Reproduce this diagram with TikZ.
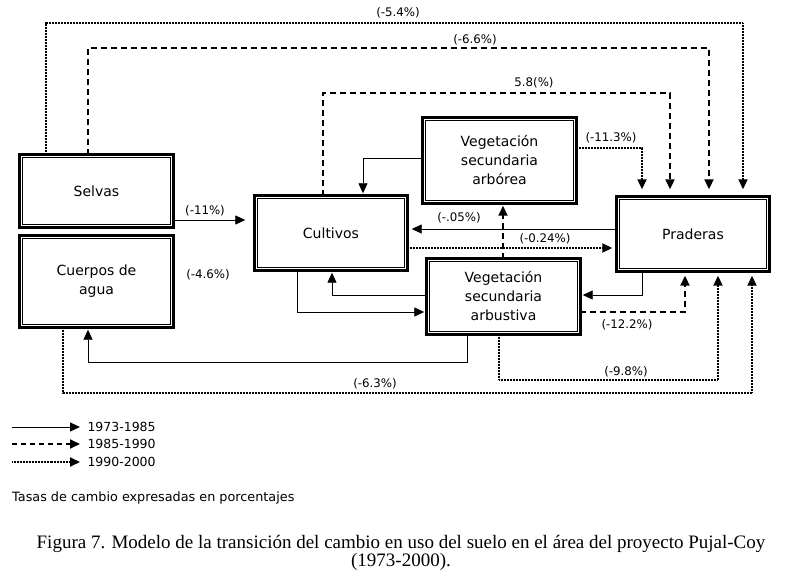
\documentclass[tikz,border=0pt]{standalone}
\usepackage{fontspec}
\setmainfont{DejaVu Sans}
\newfontfamily\capfont{Liberation Serif}
\usetikzlibrary{arrows.meta}

\begin{document}
\begin{tikzpicture}[x=1pt, y=-1pt, >={Triangle[length=10pt,width=9pt]},
	landuse/.style={align=center, inner sep=0pt, font=\fontsize{14}{19}\selectfont},
	rate/.style={font=\fontsize{11.8}{13}\selectfont},
	yrA/.style={line width=0.8pt, shorten >=5pt},
	yrB/.style={line width=1.9pt, dash pattern=on 6pt off 4pt, shorten >=5pt},
	yrC/.style={line width=1.8pt, dash pattern=on 0.8pt off 0.7pt, shorten >=5pt}]
	\useasboundingbox (0,0) rectangle (788,575);
	% land use classes
	\node[landuse, minimum width=152pt, minimum height=71pt] (selvas) at (96.5,191) {Selvas};
	\node[landuse, minimum width=152pt, minimum height=90pt] (cuerpos) at (96.5,281.5) {Cuerpos de\\agua};
	\node[landuse, minimum width=151pt, minimum height=73pt] (cultivos) at (331,233) {Cultivos};
	\node[landuse, minimum width=152pt, minimum height=84pt] (arborea) at (499.5,160.5) {Vegetación\\secundaria\\arbórea};
	\node[landuse, minimum width=152pt, minimum height=74pt] (arbustiva) at (503.5,296.5) {Vegetación\\secundaria\\arbustiva};
	\node[landuse, minimum width=151pt, minimum height=73pt] (praderas) at (693,234) {Praderas};
	\foreach \n in {selvas,cuerpos,cultivos,arborea,arbustiva,praderas} {
		\draw[line width=5.5pt] (\n.north west) rectangle (\n.south east);
		\draw[white, line width=0.9pt] ([xshift=1pt,yshift=-1pt]\n.north west) rectangle ([xshift=-1pt,yshift=1pt]\n.south east);
	}
	% transitions to praderas from above
	\draw[yrC,->, shorten >=8pt] (selvas.north -| 46,0) |- (743,23) -- (praderas.north -| 743,0);
	\node[rate] at (398,13) {(-5.4\%)};
	\draw[yrB,->, shorten >=8pt] (selvas.north -| 88,0) |- (709,48) -- (praderas.north -| 709,0);
	\node[rate] at (475,40) {(-6.6\%)};
	\draw[yrB,->, shorten >=8pt] (cultivos.north -| 323,0) |- (670,93) -- (praderas.north -| 670,0);
	\node[rate] at (534,83) {5.8(\%)};
	\draw[yrC,->, shorten >=8pt] (arborea.east |- 0,148) -| (praderas.north -| 642,0);
	\node[rate] at (611,138) {(-11.3\%)};
	% around cultivos
	\draw[yrA,->, shorten >=3pt] (arborea.west |- 0,158) -| (cultivos.north -| 363,0);
	\draw[yrA,->, shorten >=10pt] (selvas.east |- 0,220) -- (cultivos.west |- 0,220);
	\node[rate] at (205,211) {(-11\%)};
	\draw[yrA,->] (praderas.west |- 0,229) -- (cultivos.east |- 0,229);
	\node[rate] at (459,218) {(-.05\%)};
	\draw[yrC,->] (cultivos.east |- 0,248) -- (praderas.west |- 0,248);
	\node[rate] at (545,239) {(-0.24\%)};
	\draw[yrB,->, shorten >=3pt] (arbustiva.north -| 503,0) -- (arborea.south -| 503,0);
	\draw[yrA,->, shorten >=3pt] (arbustiva.west |- 0,295) -| (cultivos.south -| 332,0);
	\draw[yrA,->, shorten >=3pt] (cultivos.south -| 297,0) |- (arbustiva.west |- 0,312);
	\node[rate] at (208,275) {(-4.6\%)};
	% around arbustiva
	\draw[yrA,->, shorten >=3pt] (praderas.south -| 642,0) |- (arbustiva.east |- 0,295);
	\draw[yrB,->] (arbustiva.east |- 0,312) -| (praderas.south -| 685,0);
	\node[rate] at (627,325) {(-12.2\%)};
	\draw[yrA,->, shorten >=3pt] (arbustiva.south -| 467,0) |- (88,362) -- (cuerpos.south -| 88,0);
	\draw[yrC,->] (arbustiva.south -| 499,0) |- (718,380) -- (praderas.south -| 718,0);
	\node[rate] at (626,372) {(-9.8\%)};
	\draw[yrC,->] (cuerpos.south -| 63,0) |- (752,393) -- (praderas.south -| 752,0);
	\node[rate] at (375,384) {(-6.3\%)};
	% legend
	\node[anchor=west, font=\fontsize{12.5}{14}\selectfont] (legA) at (84,427) {1973-1985};
	\node[anchor=west, font=\fontsize{12.5}{14}\selectfont] (legB) at (84,444) {1985-1990};
	\node[anchor=west, font=\fontsize{12.5}{14}\selectfont] (legC) at (84,462) {1990-2000};
	\coordinate (startA) at (12,427);
	\coordinate (startB) at (12,444);
	\coordinate (startC) at (12,462);
	\draw[yrA,->, shorten >=4pt] (startA) -- (legA.west);
	\draw[yrB,->, shorten >=4pt, dash pattern=on 5pt off 4pt] (startB) -- (legB.west);
	\draw[yrC,->, shorten >=4pt] (startC) -- (legC.west);
	\node[anchor=west, inner sep=0pt, font=\fontsize{12.8}{15}\selectfont] (note) at (12,498) {Tasas de cambio expresadas en porcentajes};
	% caption
	\node[align=center, font=\capfont\fontsize{19}{18}\selectfont] (caption) at (401,553) {Figura 7. Modelo de la transición del cambio en uso del suelo en el área del proyecto Pujal-Coy\\(1973-2000).};
\end{tikzpicture}
\end{document}
